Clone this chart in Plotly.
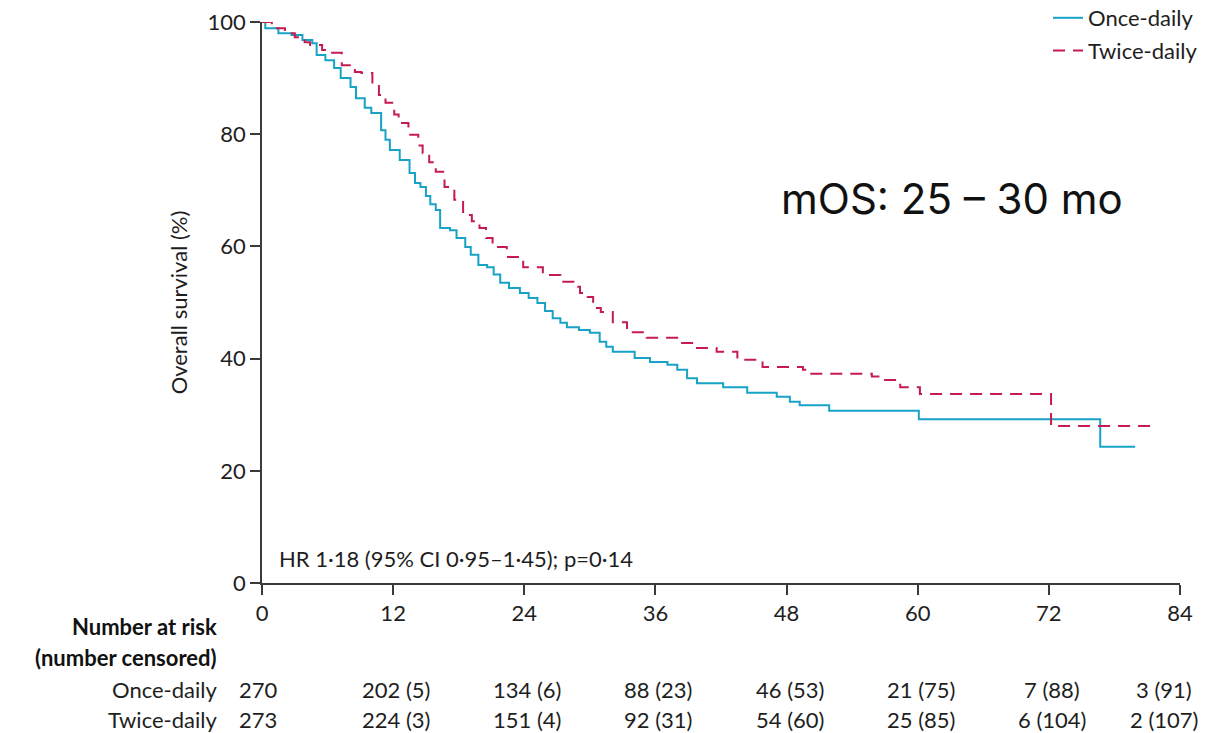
import plotly.graph_objects as go

# ---- Data ----
once_months = [0, 0.3, 1.5, 2.7, 3.7, 4.6, 5.0, 5.8, 6.6, 7.2, 8.1, 8.6, 9.4, 10.0, 10.9, 11.3, 11.7,
               12.6, 13.5, 14.0, 14.5, 15.0, 15.4, 15.9, 16.3, 17.2, 17.8, 18.6, 19.1, 19.8, 20.6,
               21.2, 21.8, 22.6, 23.6, 24.4, 25.2, 25.9, 26.6, 27.3, 27.9, 29.0, 30.0, 30.9, 31.5,
               32.1, 34.1, 35.5, 37.1, 38.0, 38.9, 39.8, 42.2, 44.4, 47.1, 48.3, 49.2, 51.9, 60.1,
               76.7, 79.9]
once_surv = [100, 98.9, 98.0, 97.7, 96.8, 96.2, 94.1, 93.2, 91.8, 90.0, 88.4, 86.4, 84.7, 83.8, 80.7, 79.0, 77.2,
             75.4, 73.1, 71.3, 70.6, 69.0, 67.5, 66.5, 63.3, 62.9, 61.5, 59.9, 58.5, 56.7, 56.3,
             55.0, 53.5, 52.6, 51.7, 50.8, 49.9, 48.5, 47.2, 46.4, 45.6, 45.1, 44.6, 43.0, 42.1,
             41.2, 40.1, 39.4, 38.9, 38.0, 36.5, 35.6, 34.9, 33.9, 33.2, 32.3, 31.7, 30.7, 29.2,
             24.3, 24.3]

twice_months = [0, 0.9, 1.2, 2.1, 3.0, 3.9, 4.4, 5.5, 6.2, 7.3, 8.5, 9.1, 10.1, 10.7, 11.3, 12.1, 12.5,
                13.4, 14.3, 14.7, 15.3, 15.9, 16.7, 17.6, 18.4, 19.2, 19.9, 20.5, 21.1, 22.4, 23.9,
                25.7, 27.3, 28.5, 29.1, 29.8, 30.3, 31.0, 32.1, 33.4, 35.2, 38.2, 39.8, 41.6, 43.5,
                45.8, 49.5, 50.1, 55.8, 56.5, 58.4, 60.2, 72.2, 81.5]
twice_surv = [100, 99.5, 98.9, 98.0, 97.3, 96.4, 95.9, 95.0, 94.5, 92.3, 91.1, 90.9, 88.8, 87.0, 85.6, 83.5, 82.0,
              79.9, 78.0, 76.6, 75.0, 73.3, 70.6, 68.3, 65.6, 64.5, 63.3, 61.5, 59.9, 58.1, 56.3,
              54.9, 53.7, 52.8, 51.7, 51.0, 49.0, 48.3, 46.5, 44.7, 43.7, 42.8, 41.9, 41.2, 39.8,
              38.5, 38.0, 37.3, 36.8, 36.2, 34.9, 33.7, 28.0, 28.0]

risk_times = [0, 12, 24, 36, 48, 60, 72, 84]
once_risk = ["270", "202 (5)", "134 (6)", "88 (23)", "46 (53)", "21 (75)", "7 (88)", "3 (91)"]
twice_risk = ["273", "224 (3)", "151 (4)", "92 (31)", "54 (60)", "25 (85)", "6 (104)", "2 (107)"]

x_ticks = [0, 12, 24, 36, 48, 60, 72, 84]
y_ticks = [0, 20, 40, 60, 80, 100]

BLUE = "#17a2c6"
RED = "#c51b51"
FONT = "Lato"
AX = "#3a3a3a"
TXT = "#1e1e1e"
FS = 22

fig = go.Figure()
fig.add_trace(go.Scatter(x=once_months, y=once_surv, mode="lines", name="Once-daily", legendgroup="a",
                         line=dict(color=BLUE, width=2, shape="hv"), cliponaxis=False))
fig.add_trace(go.Scatter(x=twice_months, y=twice_surv, mode="lines", name="Twice-daily", legendgroup="b",
                         line=dict(color=RED, width=2, shape="hv", dash="12px,8px"), cliponaxis=False))

fig.update_xaxes(range=[0, 84], tickvals=x_ticks, ticks="outside", ticklen=10, tickwidth=1.5,
                 tickcolor=AX, showline=True, linecolor=AX, linewidth=1.5, showgrid=False,
                 zeroline=False, tickfont=dict(size=FS, color=TXT, family=FONT))
fig.update_yaxes(range=[0, 100], tickvals=y_ticks, ticks="outside", ticklen=10, tickwidth=1.5,
                 tickcolor=AX, showline=True, linecolor=AX, linewidth=1.5, showgrid=False,
                 zeroline=False, tickfont=dict(size=FS, color=TXT, family=FONT),
                 title=dict(text="Overall survival (%)", font=dict(size=FS, color=TXT, family=FONT),
                            standoff=14))

def py(pix):
    return (583 - pix) / 561

def px(pix):
    return (pix - 262) / 918

annotations = []
annotations.append(dict(x=px(277), y=py(558), xref="paper", yref="paper", xanchor="left", yanchor="middle",
                        text="HR 1·18 (95% CI 0·95–1·45); p=0·14", showarrow=False,
                        font=dict(size=FS, color=TXT, family=FONT)))
annotations.append(dict(x=px(952), y=py(198), xref="paper", yref="paper",
                        xanchor="center", yanchor="middle", text="mOS: 25 – 30 mo", showarrow=False,
                        font=dict(size=42, color="#111", family="Inter")))

# number-at-risk table
label_x = px(219)
annotations.append(dict(x=label_x, y=py(626), xref="paper", yref="paper", xanchor="right", yanchor="middle",
                        text="<b>Number at risk</b>", showarrow=False, font=dict(size=FS, color="#111", family=FONT)))
annotations.append(dict(x=label_x, y=py(657), xref="paper", yref="paper", xanchor="right", yanchor="middle",
                        text="<b>(number censored)</b>", showarrow=False, font=dict(size=FS, color="#111", family=FONT)))
annotations.append(dict(x=label_x, y=py(689), xref="paper", yref="paper", xanchor="right", yanchor="middle",
                        text="Once-daily", showarrow=False, font=dict(size=FS, color=TXT, family=FONT)))
annotations.append(dict(x=label_x, y=py(719), xref="paper", yref="paper", xanchor="right", yanchor="middle",
                        text="Twice-daily", showarrow=False, font=dict(size=FS, color=TXT, family=FONT)))
for i, t in enumerate(risk_times):
    shift = -16 if t == 84 else (-4 if t == 0 else 3)
    for txt, yp in ((once_risk[i], 689), (twice_risk[i], 719)):
        annotations.append(dict(x=t, y=py(yp), xref="x", yref="paper", xanchor="center", yanchor="middle",
                                text=txt, showarrow=False, xshift=shift,
                                font=dict(size=FS, color=TXT, family=FONT)))

fig.update_layout(
    width=1217, height=733,
    margin=dict(l=262, r=37, t=22, b=150, autoexpand=False),
    paper_bgcolor="white", plot_bgcolor="white",
    showlegend=True,
    legend=dict(x=px(1203), y=py(-3), xanchor="right", yanchor="top", bgcolor="rgba(0,0,0,0)",
                font=dict(size=FS, color=TXT, family=FONT), tracegroupgap=1, itemwidth=30),
    annotations=annotations,
)

fig.write_html("out.html", config={"displayModeBar": False},
               post_script="document.body.style.margin='0';document.body.style.overflow='hidden';")
